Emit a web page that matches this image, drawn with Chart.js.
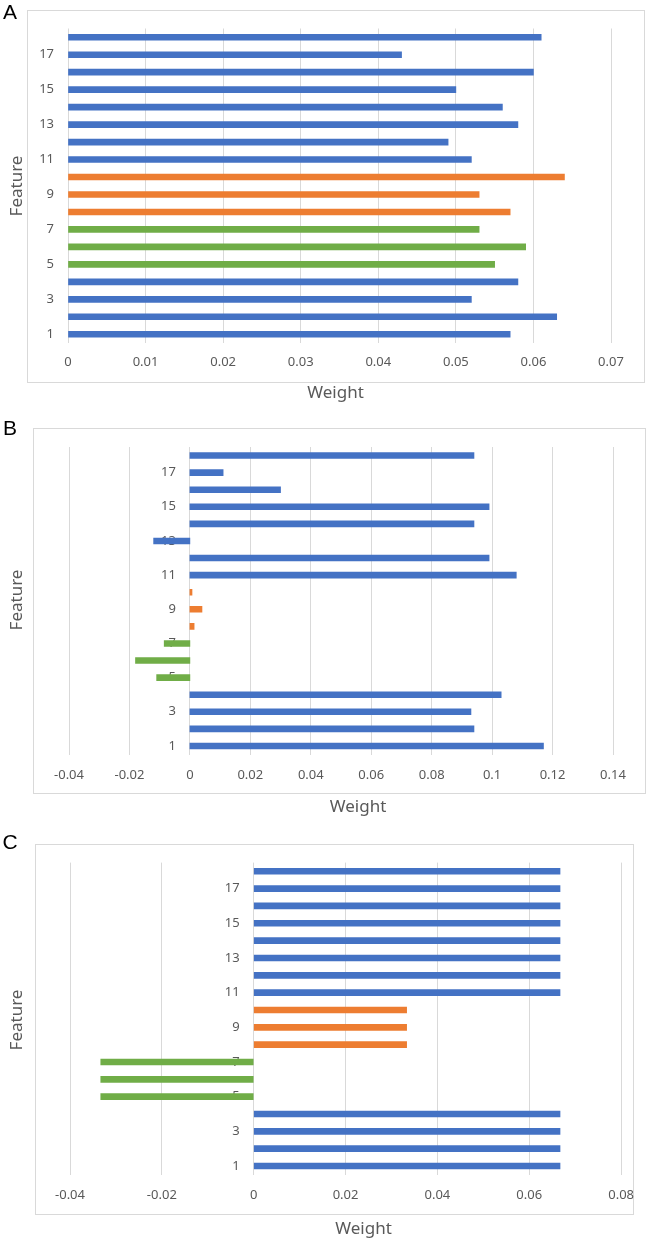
<!DOCTYPE html>
<html><head><meta charset="utf-8">
<script src="https://cdn.jsdelivr.net/npm/chart.js@4/dist/chart.umd.min.js"></script>
<style>
html,body{margin:0;padding:0;background:#fff;}
body{width:647px;height:1240px;position:relative;overflow:hidden;}
.panel{position:absolute;left:0;width:647px;}
canvas{display:block;}
</style></head><body>
<div class="panel" style="top:0;height:412px"><canvas id="cA" width="647" height="412"></canvas></div>
<div class="panel" style="top:412px;height:412px"><canvas id="cB" width="647" height="412"></canvas></div>
<div class="panel" style="top:824px;height:416px"><canvas id="cC" width="647" height="416"></canvas></div>
<script>
// ---- data ----
const categories = ['1','2','3','4','5','6','7','8','9','10','11','12','13','14','15','16','17','18'];
const featureGroup = ['blue','blue','blue','blue','green','green','green','orange','orange','orange',
                      'blue','blue','blue','blue','blue','blue','blue','blue'];
const weightsA = [0.057,0.063,0.052,0.058,0.055,0.059,0.053,0.057,0.053,0.064,0.052,0.049,0.058,0.056,0.050,0.060,0.043,0.061];
const weightsB = [0.117,0.094,0.093,0.103,-0.011,-0.018,-0.0085,0.0014,0.004,0.0007,0.108,0.099,-0.012,0.094,0.099,0.030,0.011,0.094];
const weightsC = [0.0667,0.0667,0.0667,0.0667,-0.0333,-0.0333,-0.0333,0.0333,0.0333,0.0333,0.0667,0.0667,0.0667,0.0667,0.0667,0.0667,0.0667,0.0667];
const xTickLabelsA = ['0','0.01','0.02','0.03','0.04','0.05','0.06','0.07'];
const xTickLabelsB = ['-0.04','-0.02','0','0.02','0.04','0.06','0.08','0.1','0.12','0.14'];
const xTickLabelsC = ['-0.04','-0.02','0','0.02','0.04','0.06','0.08'];

// ---- styles ----
const palette = {blue:'#4472C4', orange:'#ED7D31', green:'#70AD47'};
const gridColor = '#D9D9D9';
const textColor = '#595959';
const tickFont = {family:"'Noto Sans', 'DejaVu Sans', sans-serif", size:13};
const yLabelGap = 14;

const deco = {
  id:'deco',
  beforeDraw(chart, args, o){
    const ctx = chart.ctx;
    ctx.save();
    ctx.strokeStyle = gridColor; ctx.lineWidth = 1;
    ctx.strokeRect(o.frame[0]+0.5, o.frame[1]+0.5, o.frame[2]-o.frame[0], o.frame[3]-o.frame[1]);
    ctx.restore();
    // keep the category labels a small gap left of the zero line
    const items = chart.scales.y.getLabelItems();
    if (!items._shifted) {
      items.forEach(it => { it.options.translation[0] -= yLabelGap; });
      items._shifted = true;
    }
  },
  afterDraw(chart, args, o){
    const ctx = chart.ctx;
    ctx.save();
    ctx.fillStyle = textColor;
    ctx.font = "17px 'Noto Sans', 'DejaVu Sans', sans-serif";
    ctx.textAlign = 'center'; ctx.textBaseline = 'middle';
    ctx.fillText('Weight', o.xTitle[0], o.xTitle[1]);
    ctx.save();
    ctx.translate(o.yTitle[0], o.yTitle[1]);
    ctx.rotate(-Math.PI/2);
    ctx.fillText('Feature', 0, 0);
    ctx.restore();
    ctx.fillStyle = '#000';
    ctx.font = "21px 'Liberation Sans', Arial, sans-serif";
    ctx.fillText(o.letter, o.letterPos[0], o.letterPos[1]);
    ctx.restore();
  }
};

function makePanel(id, weights, tickLabels, lay){
  const min = Number(tickLabels[0]);
  const max = Number(tickLabels[tickLabels.length-1]);
  const step = Number(tickLabels[1]) - Number(tickLabels[0]);
  return new Chart(document.getElementById(id), {
    type:'bar',
    data:{labels:categories, datasets:[{
      data:weights,
      backgroundColor:featureGroup.map(g=>palette[g]),
      borderWidth:0, barThickness:6
    }]},
    plugins:[deco],
    options:{
      indexAxis:'y', responsive:false, animation:false,
      layout:{padding:lay.padding},
      plugins:{legend:{display:false}, tooltip:{enabled:false}, deco:lay.deco},
      scales:{
        x:{type:'linear', min:min, max:max,
           ticks:{stepSize:step, autoSkip:false, maxRotation:0, color:textColor, font:tickFont, padding:lay.xPad,
                  callback:(v,i)=> tickLabels[i] !== undefined ? tickLabels[i] : String(Number(v.toFixed(3)))},
           grid:{color:gridColor, lineWidth:1, drawTicks:false},
           border:{display:false},
           afterFit(s){ s.height = 30; }
        },
        y:{position:{x:0}, reverse:true, z:1,
           grid:{display:false}, border:{display:false},
           ticks:{autoSkip:false, color:textColor, font:tickFont, padding:0,
                  callback:function(v,i){ return i%2===0 ? this.getLabelForValue(v) : ''; }}
        }
      }
    }
  });
}

makePanel('cA', weightsA, xTickLabelsA, {
  padding:{left:68, right:36, top:28.5, bottom:412-343-30},
  xPad:11,
  deco:{frame:[27,10,644,382], xTitle:[335.5,393], yTitle:[17,186], letter:'A', letterPos:[10,13]}
});
makePanel('cB', weightsB, xTickLabelsB, {
  padding:{left:69, right:34, top:35, bottom:412-342.5-30},
  xPad:12.5,
  deco:{frame:[33,16,645,381], xTitle:[358,395], yTitle:[17,188], letter:'B', letterPos:[10,17]}
});
makePanel('cC', weightsC, xTickLabelsC, {
  padding:{left:70, right:24, top:38.6, bottom:416-350.7-30},
  xPad:13,
  deco:{frame:[35,20,633,390], xTitle:[363.5,405], yTitle:[17,196], letter:'C', letterPos:[10,19]}
});
</script>
</body></html>
